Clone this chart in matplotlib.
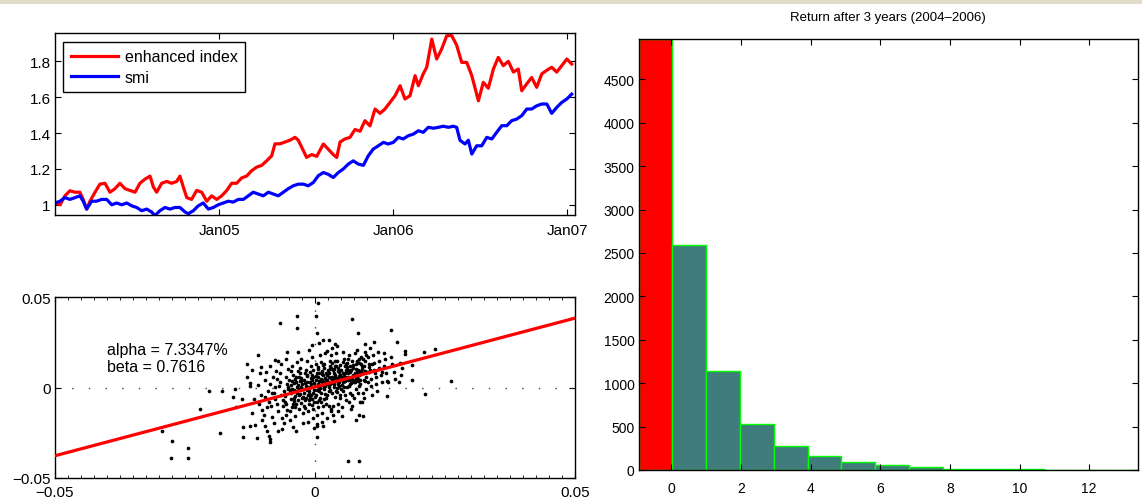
import numpy as np
import matplotlib
matplotlib.use('Agg')
import matplotlib.pyplot as plt
from matplotlib.patches import Rectangle
from matplotlib.ticker import MultipleLocator

plt.rcParams['font.family'] = ['Liberation Sans', 'DejaVu Sans']

# %% data

# index levels (x in fractional years)
red_years = [2004.056, 2004.085, 2004.113, 2004.142, 2004.171, 2004.199, 2004.218, 2004.238, 2004.257,
             2004.286, 2004.314, 2004.343, 2004.372, 2004.401, 2004.429, 2004.458, 2004.487, 2004.516,
             2004.544, 2004.573, 2004.602, 2004.621, 2004.640, 2004.669, 2004.698, 2004.726, 2004.755,
             2004.774, 2004.793, 2004.813, 2004.841, 2004.870, 2004.899, 2004.928, 2004.956, 2004.985,
             2005.014, 2005.043, 2005.071, 2005.100, 2005.129, 2005.157, 2005.186, 2005.215, 2005.244,
             2005.272, 2005.301, 2005.320, 2005.349, 2005.378, 2005.406, 2005.435, 2005.454,
             2005.474, 2005.502, 2005.531, 2005.560, 2005.598, 2005.626, 2005.655, 2005.675, 2005.694,
             2005.722, 2005.751, 2005.780, 2005.809, 2005.837, 2005.866, 2005.895, 2005.924, 2005.952,
             2005.981, 2006.010, 2006.039, 2006.067, 2006.096, 2006.125, 2006.144, 2006.172, 2006.192,
             2006.221, 2006.249, 2006.278, 2006.307, 2006.336, 2006.364, 2006.393, 2006.422, 2006.451,
             2006.489, 2006.517, 2006.546, 2006.575, 2006.603, 2006.632, 2006.661, 2006.690, 2006.718,
             2006.738, 2006.767, 2006.795, 2006.824, 2006.853, 2006.882, 2006.910, 2006.939, 2006.968,
             2006.997, 2007.025]
enhanced = [1.01, 1.00, 1.05, 1.078, 1.07, 1.07, 1.03, 0.976, 1.02, 1.07, 1.115, 1.12, 1.07, 1.09, 1.12,
            1.09, 1.08, 1.07, 1.12, 1.143, 1.16, 1.10, 1.07, 1.12, 1.13, 1.12, 1.13, 1.16, 1.10, 1.04,
            1.03, 1.08, 1.07, 1.02, 1.05, 1.03, 1.05, 1.08, 1.12, 1.12, 1.15, 1.16, 1.19, 1.21, 1.22,
            1.245, 1.273, 1.34, 1.34, 1.35, 1.36, 1.376, 1.36,
            1.32, 1.264, 1.28, 1.27, 1.339, 1.31, 1.28, 1.264, 1.35, 1.367, 1.376, 1.42, 1.41, 1.469,
            1.44, 1.534, 1.51, 1.534, 1.571, 1.608, 1.664, 1.59, 1.608, 1.72, 1.664, 1.73, 1.767, 1.924,
            1.813, 1.869, 1.943, 1.943, 1.89, 1.794, 1.794, 1.72, 1.58, 1.683, 1.65, 1.757, 1.822, 1.776,
            1.80, 1.74, 1.757, 1.636, 1.675, 1.71, 1.655, 1.73, 1.75, 1.767, 1.74, 1.776, 1.813, 1.785]

blue_years = [2004.056, 2004.085, 2004.113, 2004.142, 2004.171, 2004.199, 2004.218, 2004.238, 2004.267,
              2004.295, 2004.324, 2004.353, 2004.382, 2004.410, 2004.439, 2004.468, 2004.497, 2004.525,
              2004.554, 2004.583, 2004.611, 2004.630, 2004.659, 2004.688, 2004.717, 2004.745, 2004.774,
              2004.803, 2004.822, 2004.851, 2004.879, 2004.908, 2004.937, 2004.966, 2004.994, 2005.023,
              2005.052, 2005.080, 2005.109, 2005.138, 2005.167, 2005.195, 2005.224, 2005.253, 2005.282,
              2005.310, 2005.339, 2005.368, 2005.397, 2005.425, 2005.454,
              2005.483, 2005.511, 2005.540, 2005.569, 2005.598, 2005.626, 2005.655, 2005.684, 2005.713,
              2005.741, 2005.770, 2005.799, 2005.828, 2005.856, 2005.885, 2005.914, 2005.943, 2005.971,
              2006.000, 2006.029, 2006.057, 2006.086, 2006.115, 2006.144, 2006.172, 2006.201, 2006.230,
              2006.259, 2006.287, 2006.316, 2006.345, 2006.364, 2006.383, 2006.412, 2006.431, 2006.451,
              2006.479, 2006.508, 2006.537, 2006.566, 2006.594, 2006.623, 2006.652, 2006.680, 2006.709,
              2006.738, 2006.767, 2006.795, 2006.824, 2006.853, 2006.882, 2006.910, 2006.939, 2006.968,
              2006.997, 2007.025]
smi = [1.01, 1.02, 1.04, 1.03, 1.04, 1.05, 1.02, 0.976, 1.02, 1.02, 1.03, 1.03, 1.0, 1.01, 1.0, 1.01,
       0.994, 0.985, 0.967, 0.976, 0.96, 0.94, 0.967, 0.985, 0.976, 0.985, 0.985, 0.96, 0.95, 0.967,
       0.994, 1.01, 0.976, 0.985, 1.0, 1.01, 1.02, 1.015, 1.03, 1.03, 1.05, 1.07, 1.06, 1.05, 1.07,
       1.06, 1.05, 1.07, 1.09, 1.106, 1.115,
       1.115, 1.106, 1.124, 1.162, 1.18, 1.17, 1.152, 1.18, 1.2, 1.227, 1.245, 1.227, 1.22, 1.273,
       1.311, 1.329, 1.348, 1.339, 1.348, 1.376, 1.367, 1.385, 1.394, 1.413, 1.404, 1.432, 1.427,
       1.432, 1.438, 1.432, 1.438, 1.432, 1.36, 1.339, 1.36, 1.283, 1.329, 1.329, 1.376, 1.367,
       1.404, 1.441, 1.441, 1.469, 1.478, 1.497, 1.534, 1.534, 1.552, 1.562, 1.562, 1.51, 1.543,
       1.571, 1.59, 1.617]

tick_years = [2005, 2006, 2007]
tick_labels = ['Jan05', 'Jan06', 'Jan07']

# daily returns in percent: (smi, enhanced index)
daily_pct = [
    (-1.22, -1.38), (-1.18, -0.62), (-1.25, 0.28), (-1.16, -2.08), (-1.21, 0.97),
    (-1.07, -0.91), (-1.02, -1.79), (-1.09, 0.12), (-1.04, -0.43), (-1.06, 0.79), (-1.01, -1.22),
    (-0.97, -0.52), (-0.93, -1.08), (-0.96, 0.41), (-0.92, -2.38), (-0.98, -1.49), (-0.94, 0.88), (-0.91, -0.19),
    (-0.88, -0.79), (-0.83, -0.31), (-0.86, 0.22), (-0.82, -1.62), (-0.87, 1.18), (-0.84, -1.01), (-0.81, 0.58), (-0.89, -2.66),
    (-0.77, -0.61), (-0.72, -1.28), (-0.76, 0.02), (-0.73, 0.49), (-0.78, -1.97), (-0.71, 1.47), (-0.74, -0.88), (-0.79, -0.29), (-0.75, 0.91),
    (-0.66, -0.42), (-0.62, -1.03), (-0.68, 0.31), (-0.63, -1.69), (-0.67, 0.82), (-0.61, -0.68), (-0.64, -2.27), (-0.69, 0.11), (-0.65, 1.31), (-0.6, -0.18),
    (-0.57, -0.48), (-0.52, -0.09), (-0.56, 0.61), (-0.53, -1.21), (-0.58, -0.81), (-0.51, 1.02), (-0.55, -1.52), (-0.54, 0.19), (-0.59, -1.98), (-0.5, 0.42), (-0.56, 1.58),
    (-0.47, -0.32), (-0.43, -0.88), (-0.46, 0.12), (-0.42, 0.71), (-0.48, -1.31), (-0.41, -0.58), (-0.45, 1.21), (-0.44, 0.39), (-0.49, -1.79), (-0.4, -0.11), (-0.46, 0.92), (-0.43, -2.18),
    (-0.37, -0.21), (-0.33, -0.69), (-0.36, 0.29), (-0.32, 0.91), (-0.38, -1.09), (-0.31, -0.41), (-0.35, 1.42), (-0.34, 0.02), (-0.39, -1.58), (-0.3, 0.61), (-0.36, -0.92), (-0.33, 1.98), (-0.37, -2.41),
    (-0.27, 0.01), (-0.23, -0.49), (-0.26, 0.52), (-0.22, -1.02), (-0.28, 1.09), (-0.21, -0.29), (-0.25, 0.19), (-0.24, -1.41), (-0.29, 0.79), (-0.2, -0.71), (-0.26, 1.61), (-0.23, -1.98), (-0.27, 0.38),
    (-0.17, 0.09), (-0.13, -0.41), (-0.16, 0.62), (-0.12, -0.89), (-0.18, 0.98), (-0.11, -0.21), (-0.15, 0.31), (-0.14, -1.29), (-0.19, 0.81), (-0.1, -0.59), (-0.16, 1.49), (-0.13, -1.91), (-0.17, -0.02), (-0.12, 2.08),
    (-0.07, 0.19), (-0.03, -0.29), (-0.06, 0.71), (-0.02, -0.81), (-0.08, 1.19), (-0.01, -0.11), (-0.05, 0.41), (-0.04, -1.19), (-0.09, 0.88), (0.0, -0.49), (-0.06, 1.71), (-0.03, -1.68), (-0.07, 0.02), (-0.02, -2.21), (-0.05, 2.38),
    (0.03, 0.11), (0.07, -0.21), (0.04, 0.79), (0.08, -0.69), (0.02, 1.31), (0.09, 0.39), (0.05, -1.09), (0.06, 0.59), (0.01, -0.41), (0.1, 1.79), (0.04, -1.51), (0.07, -0.01), (0.03, -1.99), (0.08, 2.49), (0.05, 1.02),
    (0.13, 0.29), (0.17, -0.09), (0.14, 0.91), (0.18, -0.61), (0.12, 1.41), (0.19, 0.51), (0.15, -0.99), (0.16, 0.69), (0.11, -0.31), (0.2, 1.91), (0.14, -1.39), (0.17, 0.09), (0.13, -1.88), (0.18, 1.09), (0.15, 2.61),
    (0.23, 0.21), (0.27, 0.59), (0.24, -0.41), (0.28, 1.01), (0.22, -0.89), (0.29, 1.49), (0.25, 0.31), (0.26, -0.19), (0.21, 0.79), (0.3, -1.31), (0.24, 2.01), (0.27, 0.01), (0.23, -1.69), (0.28, 1.21),
    (0.33, 0.41), (0.37, 0.01), (0.34, 0.99), (0.38, -0.49), (0.32, 1.39), (0.39, 0.61), (0.35, -0.99), (0.36, 0.19), (0.31, 1.79), (0.4, -0.21), (0.34, -1.49), (0.37, 0.81), (0.33, 2.19), (0.38, 1.19),
    (0.43, 0.51), (0.47, 0.11), (0.44, 1.09), (0.48, -0.39), (0.42, 1.49), (0.49, 0.71), (0.45, -0.89), (0.46, 0.29), (0.41, 1.89), (0.5, -0.09), (0.44, -1.29), (0.47, 0.89), (0.43, 2.29),
    (0.53, 0.31), (0.57, 0.79), (0.54, -0.21), (0.58, 1.19), (0.52, 0.49), (0.59, -0.69), (0.55, 1.59), (0.56, 0.01), (0.51, -1.09), (0.6, 0.99), (0.54, 1.99), (0.57, 0.59),
    (0.63, 0.61), (0.67, 0.19), (0.64, 0.99), (0.68, -0.29), (0.62, 1.39), (0.69, 0.41), (0.65, -0.79), (0.66, 1.79), (0.61, 0.01), (0.7, -1.19), (0.64, 0.79),
    (0.73, 0.69), (0.77, 0.29), (0.74, 1.09), (0.78, -0.09), (0.72, 1.49), (0.79, 0.49), (0.75, -0.59), (0.76, 1.89), (0.71, -0.99), (0.8, 0.89),
    (0.83, 0.49), (0.87, 0.89), (0.84, 0.09), (0.88, 1.29), (0.82, -0.29), (0.89, 1.69), (0.85, 0.69), (0.86, -0.79), (0.81, 2.09),
    (0.93, 0.79), (0.97, 0.39), (0.94, 1.19), (0.98, -0.09), (0.92, 1.59), (0.99, 0.59), (0.95, -0.59), (0.96, 1.99),
    (1.03, 0.89), (1.07, 0.49), (1.04, 1.29), (1.08, 0.09), (1.02, 1.69), (1.09, -0.39), (1.05, 0.99), (1.06, 2.19),
    (1.13, 0.99), (1.17, 0.59), (1.14, 1.39), (1.18, 0.19), (1.12, 1.79), (1.19, -0.19), (1.15, 0.79),
    (1.23, 1.09), (1.27, 0.69), (1.24, 1.49), (1.28, 0.29), (1.22, 1.99), (1.29, 0.89),
    (1.33, 1.19), (1.37, 0.79), (1.34, 1.59), (1.38, 0.39), (1.32, 1.89),
    (1.48, 1.29), (1.52, 0.89), (1.46, 1.69), (1.54, 0.49),
    (1.63, 1.39), (1.67, 1.09), (1.66, 0.69),
    # dense core
    (-0.58, -0.35), (-0.52, 0.05), (-0.47, -0.62), (-0.41, 0.28), (-0.38, -0.45), (-0.33, 0.15), (-0.29, -0.35),
    (-0.26, -0.85), (-0.21, 0.45), (-0.18, -0.55), (-0.14, 0.05), (-0.11, -0.35), (-0.08, 0.55), (-0.05, -0.65),
    (-0.02, 0.25), (0.01, 0.65), (0.04, -0.15), (0.07, 0.35), (0.1, -0.55), (0.13, 0.75), (0.16, 0.15), (0.19, -0.35),
    (0.22, 0.45), (0.25, 0.95), (0.28, -0.15), (0.31, 0.55), (0.34, 0.25), (0.37, 1.05), (0.4, 0.35), (0.43, -0.25),
    (0.46, 0.65), (0.49, 1.25), (0.52, 0.15), (0.55, 0.75), (0.58, 0.35), (0.61, 1.15), (0.64, 0.45), (0.67, 0.85),
    (0.7, 0.25), (0.73, 1.25), (0.76, 0.65), (0.79, 1.05), (0.82, 0.35), (0.85, 1.35), (0.88, 0.75), (0.91, 1.05),
    (0.94, 0.45), (0.97, 1.45), (1.0, 0.85), (1.03, 1.15),
    (-0.55, -0.9), (-0.49, -0.15), (-0.44, -1.05), (-0.39, 0.5), (-0.35, -0.3), (-0.31, -1.2), (-0.28, 0.35),
    (-0.24, -0.1), (-0.19, -1.1), (-0.15, 0.7), (-0.12, -0.7), (-0.09, 0.3), (-0.06, -0.95), (-0.03, 0.95),
    (0.0, 0.1), (0.03, -0.8), (0.06, 1.15), (0.09, 0.0), (0.12, -0.8), (0.15, 1.25), (0.18, 0.3), (0.21, -0.6),
    (0.24, 0.7), (0.27, -1.0), (0.3, 1.1), (0.33, -0.3), (0.36, 0.4), (0.39, 1.5), (0.42, 0.0), (0.45, 0.9),
    (0.48, -0.6), (0.51, 0.6), (0.54, 1.4), (0.57, -0.4), (0.6, 0.5), (0.63, 1.6), (0.66, 0.1), (0.69, 1.0),
    (0.72, -0.4), (0.75, 0.3), (0.78, 1.3), (0.81, 0.6), (0.84, 1.6), (0.87, 0.2), (0.9, 1.2), (0.93, -0.3),
    (0.96, 0.9), (0.99, 1.8), (1.02, 0.3), (1.1, 1.3),
    (-0.45, -0.05), (-0.4, -0.75), (-0.36, 0.6), (-0.3, -0.05), (-0.25, -0.6), (-0.2, 0.25), (-0.16, -0.15),
    (-0.1, 0.05), (-0.07, -0.4), (-0.04, 0.6), (0.02, 0.4), (0.05, 0.2), (0.08, 0.8), (0.11, 0.5), (0.14, 0.4),
    (0.17, 1.3), (0.2, 0.1), (0.23, 0.4), (0.26, 0.8), (0.29, 0.2), (0.32, 0.6), (0.35, 0.3), (0.38, 0.7),
    (0.41, 1.2), (0.44, 0.2), (0.47, 0.5), (0.5, 1.0), (0.53, 0.8), (0.56, 0.4), (0.59, 1.3), (0.62, 0.9),
    (0.65, 0.5), (0.68, 1.2), (0.71, 0.6), (0.74, 0.4), (0.77, 0.8), (0.8, 1.5), (0.83, 1.0), (0.86, 0.4), (0.89, 0.9),
    # outliers
    (-0.67, 3.58), (-0.34, 3.99), (-0.35, 3.32), (-1.09, 1.83), (-0.54, 1.96), (-1.31, 1.31), (-1.03, 1.13),
    (-0.76, 1.53), (-2.04, -0.2), (-1.78, -0.2), (-2.22, -1.18), (-1.83, -2.51), (-2.95, -2.41), (-2.75, -2.95),
    (-2.76, -3.91), (-2.45, -3.35), (-2.45, -3.91), (-1.57, -0.53), (-1.54, -0.07), (-1.51, -1.07), (-1.39, -2.75),
    (-1.39, -2.19), (-1.25, -2.1), (-1.11, -2.78), (-0.96, -2.14), (-0.87, -2.84), (-0.86, -3.02), (-0.72, -2.41),
    (-1.41, -0.63), (-1.25, 0.11), (-1.31, 0.57),
    (0.05, 4.69), (0.02, 3.99), (0.72, 3.8), (0.04, 3.01), (0.83, 3.03), (1.46, 3.21), (1.58, 2.55), (0.27, 2.66),
    (0.38, 2.42), (1.14, 2.51), (0.97, 2.42), (1.73, 2.05), (1.73, 1.86), (2.1, 1.99), (2.31, 2.12), (1.87, 1.26),
    (2.61, 0.39), (1.87, 0.44), (2.12, -0.35), (1.62, 0.3), (1.39, -0.48), (1.41, 0.33), (0.93, -1.58), (0.85, -1.51),
    (0.78, -1.79), (0.91, -0.81), (0.64, -4.04), (0.85, -4.04), (0.03, -2.75), (0.15, -2.1), (0.04, -2.14),
    (0.37, -1.86), (0.51, -1.55), (0.31, -1.18),
]
alpha_pct = 7.3347
beta = 0.7616
fit_intercept = 0.0004

# histogram of 3-year return
bin_edges = [-0.94, 0.03, 1.00, 1.97, 2.94, 3.91, 4.88, 5.85, 6.82, 7.79, 8.76, 9.73, 10.70, 11.67, 12.64, 13.61]
bin_counts = [4965, 2590, 1137, 530, 273, 161, 88, 61, 35, 14, 14, 14, 4, 5, 5]

# %% figure
W, H = 1142, 502
fig = plt.figure(figsize=(W / 100, H / 100), dpi=100)
fig.add_artist(Rectangle((0, 1 - 5 / H), 1, 5 / H, transform=fig.transFigure,
                         facecolor='#e2dcc8', edgecolor='none'))


def matlab_style(ax, size=11):
    ax.tick_params(direction='in', top=True, right=True, length=4, width=0.8,
                   labelsize=size, pad=3)
    for s in ax.spines.values():
        s.set_linewidth(1.0)


# top left: index levels
ax1 = fig.add_axes([55 / W, 1 - 216 / H, 520 / W, 182 / H])
ax1.plot(red_years, enhanced, color='#ff0000', lw=2.3, label='enhanced index')
ax1.plot(blue_years, smi, color='#0000ff', lw=2.3, label='smi')
ax1.set_xlim(2004.056, 2007.044)
ax1.set_ylim(0.943, 1.958)
ax1.set_xticks(tick_years)
ax1.set_xticklabels(tick_labels)
ax1.set_yticks([1, 1.2, 1.4, 1.6, 1.8])
ax1.set_yticklabels(['1', '1.2', '1.4', '1.6', '1.8'])
matlab_style(ax1)
ax1.tick_params(axis='x', pad=6)
leg = ax1.legend(loc='upper left', bbox_to_anchor=(0.016, 0.949), borderaxespad=0,
                 fancybox=False, edgecolor='k', framealpha=1, fontsize=11.5,
                 handlelength=3.0, handletextpad=0.4, borderpad=0.45, labelspacing=0.35)
leg.get_frame().set_linewidth(1.0)

# bottom left: scatter of daily returns
ax2 = fig.add_axes([55 / W, 1 - 479 / H, 520 / W, 180.7 / H])
xs = np.array([p[0] for p in daily_pct]) / 100
ys = np.array([p[1] for p in daily_pct]) / 100
ax2.plot([-0.05, 0.05], [0, 0], ls=(0, (1, 11)), color='0.25', lw=1.0)
ax2.plot([0, 0], [-0.05, 0.05], ls=(0, (1, 11)), color='0.25', lw=1.0)
ax2.scatter(xs, ys, s=7, c='k', lw=0, zorder=3)
xl = np.array([-0.05, 0.05])
ax2.plot(xl, fit_intercept + beta * xl, color='#ff0000', lw=2.3, zorder=4)
ax2.set_xlim(-0.05, 0.05)
ax2.set_ylim(-0.05, 0.05)
ax2.set_xticks([-0.05, 0, 0.05])
ax2.set_xticklabels(['\u22120.05', '0', '0.05'])
ax2.set_yticks([-0.05, 0, 0.05])
ax2.set_yticklabels(['\u22120.05', '0', '0.05'])
ax2.xaxis.set_minor_locator(MultipleLocator(0.0025))
matlab_style(ax2)
ax2.tick_params(which='minor', direction='in', top=True, length=2, width=0.6)
ax2.tick_params(axis='x', pad=5)
ax2.text(-0.040, 0.0187, 'alpha = %.4f%%' % alpha_pct, fontsize=11.5, va='baseline')
ax2.text(-0.040, 0.0094, 'beta = %.4f' % beta, fontsize=11.5, va='baseline')

# right: histogram
ax3 = fig.add_axes([638.6 / W, 1 - 471 / H, 499.4 / W, 431 / H])
lefts = np.array(bin_edges[:-1])
widths = np.diff(bin_edges)
colors = ['#ff0000'] + ['#407c7c'] * (len(bin_counts) - 1)
ax3.bar(lefts, bin_counts, width=widths, align='edge', color=colors,
        edgecolor='#00ff00', linewidth=1.0)
ax3.set_xlim(-0.94, 13.40)
ax3.set_ylim(0, 4965)
ax3.set_xticks(range(0, 13, 2))
ax3.set_yticks(range(0, 4501, 500))
matlab_style(ax3, size=10)
ax3.tick_params(axis='x', pad=8)
ax3.set_title('Return after 3 years (2004\u20132006)', fontsize=9.5, pad=14)

fig.savefig('out.png', dpi=100)
